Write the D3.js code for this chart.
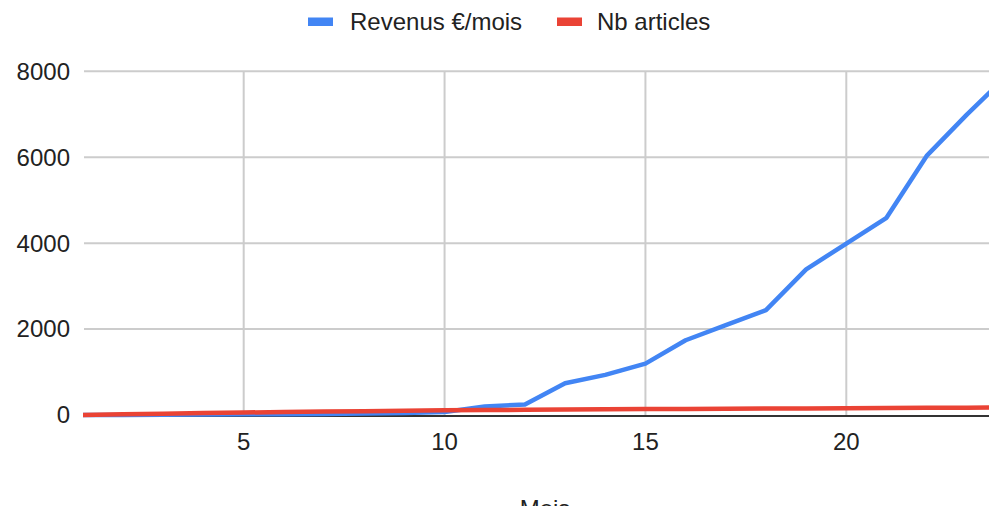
<!DOCTYPE html>
<html>
<head>
<meta charset="utf-8">
<script src="https://cdn.jsdelivr.net/npm/d3@7"></script>
<style>
  html, body { margin: 0; padding: 0; background: #fff; overflow: hidden; }
  svg { display: block; font-family: "Liberation Sans", Arial, sans-serif; }
</style>
</head>
<body>
<svg id="chart" width="989" height="506"></svg>
<script>
const months = [1,2,3,4,5,6,7,8,9,10,11,12,13,14,15,16,17,18,19,20,21,22,23,24];
const revenus = [0,0,5,10,15,20,25,35,45,70,200,245,740,935,1195,1740,2090,2440,3390,3990,4590,6030,6990,7900];
const articles = [0,15,30,45,58,70,80,90,100,108,115,120,126,132,138,142,146,150,154,158,162,166,170,174];
const xTicks = [5,10,15,20];
const yTicks = [0,2000,4000,6000,8000];
const seriesNames = ["Revenus €/mois", "Nb articles"];
const colors = ["#4285F4", "#EA4335"];
const xTitle = "Mois";

const svg = d3.select("#chart");
const W = 989;
const pLeft = 83, pRight = 1007, pTop = 71.3, pBottom = 415;

const x = d3.scaleLinear().domain([1, 24]).range([pLeft, pRight]);
const y = d3.scaleLinear().domain([0, 8000]).range([pBottom, pTop]);

const defs = svg.append("defs");
defs.append("clipPath").attr("id", "plotclip")
  .append("rect").attr("x", pLeft).attr("y", 0).attr("width", pRight - pLeft).attr("height", pBottom + 5);

// horizontal grid
svg.append("g").selectAll("line").data(yTicks.filter(d => d !== 0)).join("line")
  .attr("x1", pLeft + 1).attr("x2", W)
  .attr("y1", d => y(d)).attr("y2", d => y(d))
  .attr("stroke", "#cccccc").attr("stroke-width", 2);

// vertical grid
svg.append("g").selectAll("line").data(xTicks).join("line")
  .attr("x1", d => x(d)).attr("x2", d => x(d))
  .attr("y1", pTop).attr("y2", pBottom)
  .attr("stroke", "#cccccc").attr("stroke-width", 2);

// y labels
svg.append("g").selectAll("text").data(yTicks).join("text")
  .attr("x", 70).attr("y", d => y(d))
  .attr("dy", "0.35em")
  .attr("text-anchor", "end")
  .attr("font-size", 24).attr("fill", "#222")
  .text(d => d);

// x labels
svg.append("g").selectAll("text").data(xTicks).join("text")
  .attr("x", d => x(d)).attr("y", 450)
  .attr("text-anchor", "middle")
  .attr("font-size", 24).attr("fill", "#222")
  .text(d => d);

// baseline
svg.append("line")
  .attr("x1", pLeft).attr("x2", W)
  .attr("y1", y(0) + 1).attr("y2", y(0) + 1)
  .attr("stroke", "#333").attr("stroke-width", 2);

const line = d3.line().x((d, i) => x(months[i])).y(d => y(d));
const g = svg.append("g").attr("clip-path", "url(#plotclip)");
g.append("path").datum(revenus).attr("d", line)
  .attr("fill", "none").attr("stroke", colors[0]).attr("stroke-width", 4.5)
  .attr("stroke-linejoin", "round");
g.append("path").datum(articles).attr("d", line)
  .attr("fill", "none").attr("stroke", colors[1]).attr("stroke-width", 4.5)
  .attr("stroke-linejoin", "round");

// legend
const legend = svg.append("g");
const legendItems = [
  {name: seriesNames[0], color: colors[0], sx: 308, tx: 350},
  {name: seriesNames[1], color: colors[1], sx: 557, tx: 597}
];
legendItems.forEach(it => {
  legend.append("rect").attr("x", it.sx).attr("y", 17.5).attr("width", 25).attr("height", 8.5)
    .attr("fill", it.color);
  legend.append("text").attr("x", it.tx).attr("y", 30)
    .attr("font-size", 24).attr("fill", "#222").text(it.name);
});

// x axis title (cropped at bottom, as in the reference)
svg.append("text").attr("x", (pLeft + pRight) / 2).attr("y", 517)
  .attr("text-anchor", "middle").attr("font-size", 24).attr("fill", "#222")
  .text(xTitle);
</script>
</body>
</html>
